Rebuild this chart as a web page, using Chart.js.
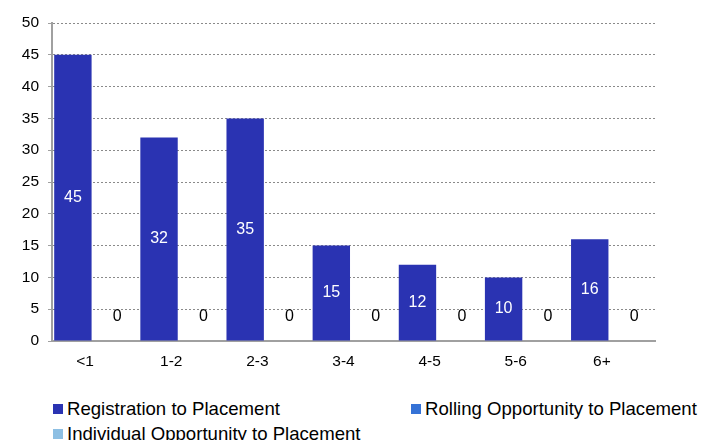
<!DOCTYPE html>
<html>
<head>
<meta charset="utf-8">
<script src="https://cdn.jsdelivr.net/npm/chart.js@4"></script>
<style>
  body { margin: 0; background: #fff; }
  #wrap { position: relative; width: 701px; height: 440px; overflow: hidden; }
  #legend {
    position: absolute; left: 53px; top: 396px;
    display: grid; grid-template-columns: 358px auto; grid-auto-rows: 25px;
    font-family: "Liberation Sans", Arial, sans-serif; font-size: 18.6px; color: #000;
  }
  .item { display: flex; align-items: center; white-space: nowrap; }
  .box { width: 10px; height: 10px; margin-right: 4px; flex: none; }
</style>
</head>
<body>
<div id="wrap">
  <canvas id="chart" width="701" height="390"></canvas>
  <div id="legend"></div>
</div>
<script>
// --- donnees ---
const categories = ['<1', '1-2', '2-3', '3-4', '4-5', '5-6', '6+'];
const registration = [45, 32, 35, 15, 12, 10, 16];
const rolling = [0, 0, 0, 0, 0, 0, 0];
const individual = [0, 0, 0, 0, 0, 0, 0];
const yMax = 50;
const yStep = 5;

const seriesNames = ['Registration to Placement', 'Rolling Opportunity to Placement', 'Individual Opportunity to Placement'];
const seriesColors = ['#2A33B2', '#3572D6', '#8DBFE3'];

const FONT = '"Liberation Sans", Arial, sans-serif';

// etiquettes de valeur sur les barres
const valueLabels = {
    id: 'valueLabels',
    afterDatasetsDraw(chart) {
        const ctx = chart.ctx;
        ctx.save();
        ctx.font = '16px ' + FONT;
        ctx.textAlign = 'center';
        ctx.textBaseline = 'middle';
        chart.data.datasets.forEach((ds, i) => {
            if (!ds.showLabels) return;
            chart.getDatasetMeta(i).data.forEach((bar, j) => {
                const v = ds.data[j];
                if (v > 0) {
                    ctx.fillStyle = '#fff';
                    ctx.fillText(String(v), bar.x, (bar.y + bar.base) / 2);
                } else {
                    ctx.fillStyle = '#000';
                    ctx.fillText(String(v), bar.x, bar.base - 24);
                }
            });
        });
        ctx.restore();
    }
};

const chart = new Chart(document.getElementById('chart'), {
    type: 'bar',
    data: {
        labels: categories,
        datasets: [
            { label: seriesNames[0], data: registration, backgroundColor: seriesColors[0], stack: 'a', showLabels: true },
            { label: seriesNames[1], data: rolling, backgroundColor: seriesColors[1], stack: 'b', showLabels: true },
            { label: seriesNames[2], data: individual, backgroundColor: seriesColors[2], stack: 'b', showLabels: false }
        ]
    },
    options: {
        responsive: false,
        animation: false,
        devicePixelRatio: 1,
        categoryPercentage: 1.03,
        barPercentage: 0.843,
        layout: { padding: { left: 0, right: 46, top: 23, bottom: 0 } },
        plugins: {
            legend: { display: false },
            tooltip: { enabled: false }
        },
        scales: {
            x: {
                stacked: true,
                grid: { display: false, drawTicks: false },
                border: { display: true, color: '#a0a0a0', width: 2 },
                ticks: { color: '#000', font: { family: FONT, size: 15.5 }, padding: 11, labelOffset: -10, maxRotation: 0 },
                afterFit(scale) { scale.height = 49; }
            },
            y: {
                stacked: true,
                min: 0,
                max: yMax,
                border: { display: true, color: '#a0a0a0', width: 2, dash: [2, 2] },
                grid: {
                    color: '#8a8a8a',
                    tickLength: 4,
                    tickColor: '#a0a0a0',
                    tickBorderDash: []
                },
                ticks: { stepSize: yStep, color: '#000', font: { family: FONT, size: 15.5 }, padding: 9 },
                afterFit(scale) { scale.width = 52; }
            }
        }
    },
    plugins: [valueLabels]
});

// --- legende HTML ---
const legend = document.getElementById('legend');
chart.data.datasets.forEach(ds => {
    const item = document.createElement('div');
    item.className = 'item';
    const box = document.createElement('span');
    box.className = 'box';
    box.style.background = ds.backgroundColor;
    const txt = document.createElement('span');
    txt.textContent = ds.label;
    item.appendChild(box);
    item.appendChild(txt);
    legend.appendChild(item);
});
</script>
</body>
</html>
